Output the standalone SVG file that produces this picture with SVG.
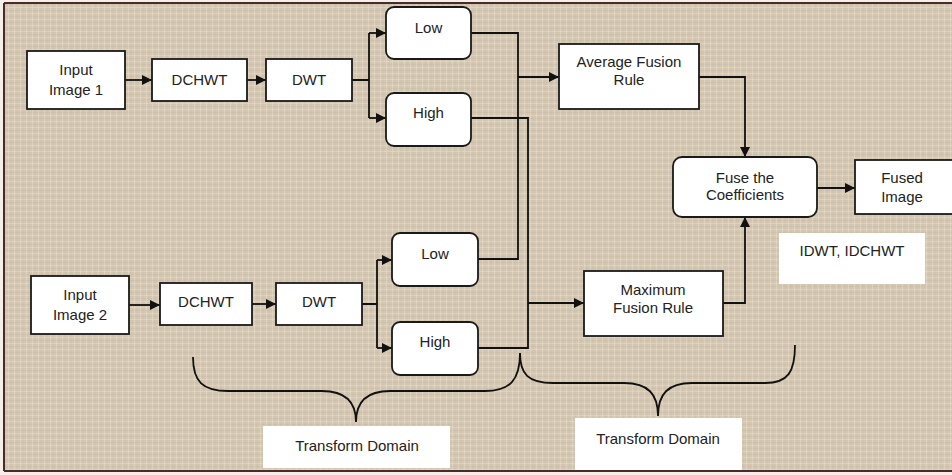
<svg xmlns="http://www.w3.org/2000/svg" width="952" height="475" viewBox="0 0 952 475">
<style>
.box{fill:#ffffff;stroke:#1a1a1a;stroke-width:1.8}
.t{font-family:"Liberation Sans",Arial,sans-serif;font-size:15px;fill:#222;text-anchor:middle}
.c{fill:none;stroke:#111;stroke-width:1.8}
.br{fill:none;stroke:#111;stroke-width:1.8}
.lbl{fill:#ffffff;stroke:none}
</style>
<defs>
<marker id="ah" viewBox="0 0 10 10" refX="10" refY="5" markerWidth="10" markerHeight="10" markerUnits="userSpaceOnUse" orient="auto">
<path d="M0,0 L10,5 L0,10 z" fill="#111"/>
</marker>
<pattern id="tex" width="6" height="6" patternUnits="userSpaceOnUse">
<path d="M0,1.5 H6 M2.5,0 V6" stroke="#efe6d8" stroke-width="0.8" opacity="0.5"/>
<path d="M0,4.5 H6 M5,0 V6" stroke="#b9ab95" stroke-width="0.6" opacity="0.35"/>
</pattern>
</defs>
<rect x="0" y="0" width="952" height="475" fill="#f4efe8"/>
<rect x="4" y="3" width="950" height="468" fill="#d4c7b2"/>
<rect x="4" y="3" width="950" height="468" fill="url(#tex)"/>
<path d="M4,3 H952 M4,3 V471 M4,471 H952" fill="none" stroke="#4b2a2a" stroke-width="2"/>

<g id="connectors">
<path class="c" d="M125,80 H152" marker-end="url(#ah)"/>
<path class="c" d="M247,80 H266" marker-end="url(#ah)"/>
<path class="c" d="M352,80 H369 M369,33 V118"/>
<path class="c" d="M369,33 H386" marker-end="url(#ah)"/>
<path class="c" d="M369,118 H386" marker-end="url(#ah)"/>
<path class="c" d="M471,33 H518 V259 H478"/>
<path class="c" d="M518,77 H559" marker-end="url(#ah)"/>
<path class="c" d="M471,118 H528 V348 H478"/>
<path class="c" d="M528,303 H584" marker-end="url(#ah)"/>
<path class="c" d="M699,77 H745 V157" marker-end="url(#ah)"/>
<path class="c" d="M723,303 H745 V217" marker-end="url(#ah)"/>
<path class="c" d="M817,188 H855" marker-end="url(#ah)"/>
<path class="c" d="M129,305 H160" marker-end="url(#ah)"/>
<path class="c" d="M252,304 H276" marker-end="url(#ah)"/>
<path class="c" d="M362,304 H377 M377,260 V348"/>
<path class="c" d="M377,260 H392" marker-end="url(#ah)"/>
<path class="c" d="M377,348 H392" marker-end="url(#ah)"/>
</g>

<g id="braces">
<path class="br" d="M193,357 C193,382 203,391 228,391 H322 C346,391 356,402 356,422 C356,402 366,391 390,391 H485 C510,391 520,380 520,353"/>
<path class="br" d="M520,353 C520,374 528,383 553,383 H624 C648,383 658,394 658,416 C658,394 668,383 692,383 H765 C788,383 795,372 795,345"/>
</g>

<g id="input1"><rect class="box" x="27" y="51" width="98" height="58"/><text class="t" x="76" y="75">Input</text><text class="t" x="76" y="95">Image 1</text></g>
<g id="dchwt1"><rect class="box" x="152" y="59" width="95" height="42"/><text class="t" x="199.5" y="85">DCHWT</text></g>
<g id="dwt1"><rect class="box" x="266" y="59" width="86" height="42"/><text class="t" x="309" y="85">DWT</text></g>
<g id="low1"><rect class="box" x="386" y="7" width="85" height="52" rx="8"/><text class="t" x="428.5" y="33">Low</text></g>
<g id="high1"><rect class="box" x="386" y="93" width="85" height="53" rx="8"/><text class="t" x="428.5" y="118">High</text></g>
<g id="avg"><rect class="box" x="559" y="44" width="140" height="65"/><text class="t" x="629" y="67">Average Fusion</text><text class="t" x="629" y="85">Rule</text></g>
<g id="fuse"><rect class="box" x="673" y="157" width="144" height="60" rx="9"/><text class="t" x="745" y="183">Fuse the</text><text class="t" x="745" y="200">Coefficients</text></g>
<g id="fused"><rect class="box" x="855" y="160" width="105" height="54"/><text class="t" x="902" y="183">Fused</text><text class="t" x="902" y="202">Image</text></g>
<g id="idwt"><rect class="lbl" x="779" y="233" width="146" height="51"/><text class="t" x="852" y="256">IDWT, IDCHWT</text></g>
<g id="input2"><rect class="box" x="31" y="276" width="98" height="58"/><text class="t" x="80" y="300">Input</text><text class="t" x="80" y="320">Image 2</text></g>
<g id="dchwt2"><rect class="box" x="160" y="283" width="92" height="42"/><text class="t" x="206" y="307">DCHWT</text></g>
<g id="dwt2"><rect class="box" x="276" y="283" width="86" height="42"/><text class="t" x="319" y="307">DWT</text></g>
<g id="low2"><rect class="box" x="392" y="233" width="86" height="53" rx="8"/><text class="t" x="435" y="259">Low</text></g>
<g id="high2"><rect class="box" x="392" y="322" width="86" height="53" rx="8"/><text class="t" x="435" y="347">High</text></g>
<g id="max"><rect class="box" x="584" y="271" width="139" height="65"/><text class="t" x="653" y="295">Maximum</text><text class="t" x="653" y="313">Fusion Rule</text></g>
<g id="td1"><rect class="lbl" x="263" y="426" width="187" height="42"/><text class="t" x="357" y="451">Transform Domain</text></g>
<g id="td2"><rect class="lbl" x="575" y="418" width="167" height="52"/><text class="t" x="658" y="444">Transform Domain</text></g>
</svg>
